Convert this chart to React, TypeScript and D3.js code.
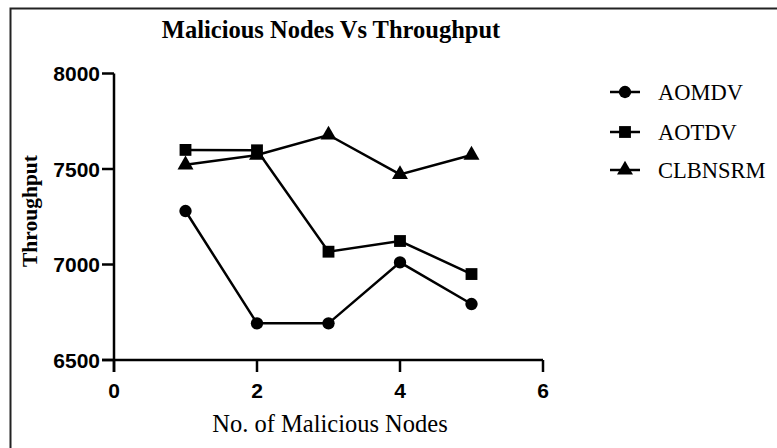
import React from 'react';
import * as d3 from 'd3';

// chart data
const nodes = [1, 2, 3, 4, 5];
const aomdv = [7280, 6692, 6692, 7011, 6793];
const aotdv = [7600, 7598, 7067, 7123, 6950];
const clbnsrm = [7522, 7573, 7678, 7472, 7573];
const seriesNames = ['AOMDV', 'AOTDV', 'CLBNSRM'];
const xTicks = [0, 2, 4, 6];
const yTicks = [6500, 7000, 7500, 8000];

const W = 777;
const H = 448;
const SERIF = 'Liberation Serif, Times New Roman, serif';
const SANS = 'Liberation Sans, Arial, sans-serif';

const App = () => {
  // scales
  const x = d3.scaleLinear().domain([0, 6]).range([114, 543]);
  const y = d3.scaleLinear().domain([6500, 8000]).range([360, 73.5]);

  const line = d3
    .line<number>()
    .x((d, i) => x(nodes[i]))
    .y((d) => y(d));

  const series = [
    { name: seriesNames[0], values: aomdv, symbol: d3.symbolCircle, size: 120 },
    { name: seriesNames[1], values: aotdv, symbol: d3.symbolSquare, size: 140 },
    { name: seriesNames[2], values: clbnsrm, symbol: d3.symbolTriangle, size: 110 },
  ];

  const legendY = [92, 132, 170];

  return (
    <svg
      width={W}
      height={H}
      style={{ position: 'fixed', left: 0, top: 0, background: '#fff' }}
    >
      {/* frame (top + left edges only) */}
      <path d={`M10.5,${H} V8.5 H${W}`} fill="none" stroke="#222" strokeWidth={2} />

      {/* title */}
      <text x={331} y={38} textAnchor="middle" fontFamily={SERIF} fontWeight="bold" fontSize={24.5}>
        Malicious Nodes Vs Throughput
      </text>

      {/* y axis */}
      <line x1={x(0)} x2={x(0)} y1={y(8000)} y2={y(6500) + 12} stroke="#000" strokeWidth={2.5} />
      {yTicks.map((t) => (
        <g key={t}>
          <line x1={x(0) - 12} x2={x(0)} y1={y(t)} y2={y(t)} stroke="#000" strokeWidth={2.5} />
          <text
            x={x(0) - 14}
            y={y(t) + 7.5}
            textAnchor="end"
            fontFamily={SANS}
            fontWeight="bold"
            fontSize={21}
          >
            {t}
          </text>
        </g>
      ))}

      {/* x axis */}
      <line x1={x(0) - 12} x2={x(6)} y1={y(6500)} y2={y(6500)} stroke="#000" strokeWidth={2.5} />
      {xTicks.map((t) => (
        <g key={t}>
          <line x1={x(t)} x2={x(t)} y1={y(6500)} y2={y(6500) + 12} stroke="#000" strokeWidth={2.5} />
          <text x={x(t)} y={398} textAnchor="middle" fontFamily={SANS} fontWeight="bold" fontSize={21}>
            {t}
          </text>
        </g>
      ))}

      {/* axis titles */}
      <text x={330} y={432} textAnchor="middle" fontFamily={SERIF} fontSize={24.5}>
        No. of Malicious Nodes
      </text>
      <text
        transform="translate(37,211) rotate(-90)"
        textAnchor="middle"
        fontFamily={SERIF}
        fontWeight="bold"
        fontSize={21.5}
      >
        Throughput
      </text>

      {/* series */}
      {series.map((s) => (
        <g key={s.name}>
          <path d={line(s.values) || ''} fill="none" stroke="#000" strokeWidth={2.5} />
          {s.values.map((v, i) => (
            <path
              key={i}
              transform={`translate(${x(nodes[i])},${y(v)})`}
              d={d3.symbol().type(s.symbol).size(s.size)() || ''}
              fill="#000"
            />
          ))}
        </g>
      ))}

      {/* legend */}
      {series.map((s, i) => (
        <g key={s.name} transform={`translate(0,${legendY[i]})`}>
          <line x1={610} x2={640} y1={0} y2={0} stroke="#000" strokeWidth={2.5} />
          <path
            transform="translate(625,0)"
            d={d3.symbol().type(s.symbol).size(s.size)() || ''}
            fill="#000"
          />
          <text x={658} y={8} fontFamily={SERIF} fontSize={22.5}>
            {s.name}
          </text>
        </g>
      ))}
    </svg>
  );
};

export default App;
